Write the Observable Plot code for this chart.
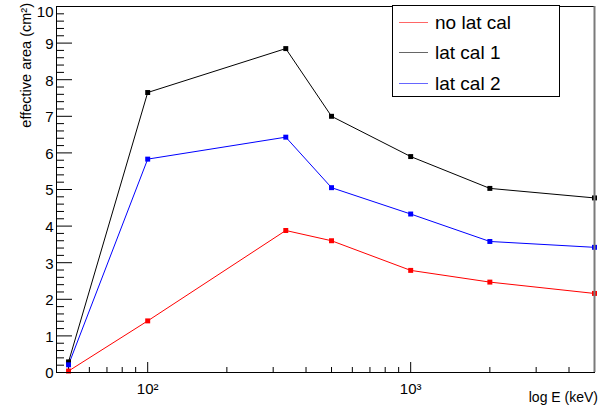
<!DOCTYPE html>
<html>
<head>
<meta charset="utf-8">
<script src="https://cdn.jsdelivr.net/npm/d3@7"></script>
<script src="https://cdn.jsdelivr.net/npm/@observablehq/plot@0.6"></script>
<style>
  html, body { margin: 0; padding: 0; background: #fff; }
  #wrap { position: relative; width: 598px; height: 414px; font-family: "Liberation Sans", Arial, sans-serif; }
  #legend { position: absolute; left: 392px; top: 5px; width: 168px; height: 92px; border: 1px solid #000; background: #fff; box-sizing: border-box; }
  .item { position: absolute; left: 0; height: 30px; width: 100%; }
  .swatch { position: absolute; left: 6px; width: 29px; top: 50%; border-top: 1px solid; opacity: 0.6; }
  .label { position: absolute; left: 42px; top: 50%; transform: translateY(-50%); font-size: 19px; line-height: 19px; color: #000; white-space: nowrap; }
</style>
</head>
<body>
<div id="wrap"></div>
<script>
// ---- data ----
const energies = [50, 100, 335, 500, 1000, 2000, 5000];          // keV
const noLatCal = [0.04, 1.41, 3.88, 3.60, 2.79, 2.47, 2.16];
const latCal1  = [0.29, 7.65, 8.85, 7.00, 5.90, 5.03, 4.77];
const latCal2  = [0.21, 5.83, 6.43, 5.05, 4.33, 3.58, 3.42];
const seriesNames  = ["no lat cal", "lat cal 1", "lat cal 2"];
const seriesColors = ["#ff0000", "#000000", "#0000ff"];
const xMajorTicks = [100, 1000];
const xMajorLabels = ["10\u00b2", "10\u00b3"];
const xMinorTicks = [50, 60, 70, 80, 90, 200, 300, 400, 500, 600, 700, 800, 900, 2000, 3000, 4000];
const yMajorTicks = [0, 1, 2, 3, 4, 5, 6, 7, 8, 9, 10];
const xTitle = "log E (keV)";
const yTitle = "effective area (cm\u00b2)";

// ---- build table ----
const seriesValues = [noLatCal, latCal1, latCal2];
const rows = [];
seriesNames.forEach((name, s) => {
  energies.forEach((e, i) => rows.push({series: name, energy: e, area: seriesValues[s][i]}));
});
const yMinorTicks = d3.range(0, 10.0001, 0.2).filter(v => Math.abs(v - Math.round(v)) > 1e-6);
const yTop = yMajorTicks[yMajorTicks.length - 1];
const yLabelTicks = yMajorTicks.filter(v => v !== yTop);

const plot = Plot.plot({
  width: 598,
  height: 414,
  marginLeft: 56,
  marginRight: 4,
  marginTop: 6,
  marginBottom: 42,
  style: { fontFamily: "Liberation Sans, Arial, sans-serif", fontSize: "15px", color: "#000", background: "#fff", overflow: "visible" },
  x: { type: "log", domain: [45, 5000], label: null },
  y: { domain: [0, 10], label: null },
  color: { domain: seriesNames, range: seriesColors },
  marks: [
    // tick marks (inward)
    Plot.axisY({ticks: yMajorTicks, tickSize: -16, tickFormat: () => "", label: null}),
    Plot.axisY({ticks: yMinorTicks, tickSize: -8, tickFormat: () => "", label: null}),
    Plot.axisX({ticks: xMajorTicks, tickSize: -10, tickFormat: () => "", label: null}),
    Plot.axisX({ticks: xMinorTicks, tickSize: -5, tickFormat: () => "", label: null}),
    // labels
    Plot.axisY({ticks: yLabelTicks, tickSize: 0, tickPadding: 3, fontSize: 15, dy: 1, tickFormat: d => String(d), label: null}),
    Plot.axisY({ticks: [yTop], tickSize: 0, tickPadding: 3, fontSize: 15, dy: 6, tickFormat: d => String(d), label: null}),
    Plot.axisX({ticks: xMajorTicks, tickSize: 0, tickPadding: 11, fontSize: 15, tickFormat: d => xMajorLabels[xMajorTicks.indexOf(d)], label: null}),
    // data
    Plot.line(rows, {x: "energy", y: "area", z: "series", stroke: "series", strokeWidth: 1}),
    Plot.dot(rows, {x: "energy", y: "area", fill: "series", symbol: "square", r: 2.8, stroke: null}),
    // frame
    Plot.frame({stroke: "#000", strokeWidth: 1}),
    Plot.ruleX([5000], {stroke: "#7a7a7a", strokeWidth: 2}),
    // axis titles
    Plot.text([xTitle], {frameAnchor: "bottom-right", text: d => d, textAnchor: "end", fontSize: 14, dx: 3.5, dy: 29, fill: "#000"}),
    Plot.text([yTitle], {frameAnchor: "top-left", text: d => d, textAnchor: "end", rotate: -90, fontSize: 14.5, dx: -35.6, dy: -3.5, fill: "#000"})
  ]
});

const wrap = document.getElementById("wrap");
wrap.appendChild(plot);

// legend
const legend = document.createElement("div");
legend.id = "legend";
seriesNames.forEach((name, i) => {
  const item = document.createElement("div");
  item.className = "item";
  item.style.top = (1 + i * 30.3) + "px";
  const sw = document.createElement("div");
  sw.className = "swatch";
  sw.style.borderTopColor = seriesColors[i];
  const lb = document.createElement("div");
  lb.className = "label";
  lb.textContent = name;
  item.appendChild(sw);
  item.appendChild(lb);
  legend.appendChild(item);
});
wrap.appendChild(legend);
</script>
</body>
</html>
